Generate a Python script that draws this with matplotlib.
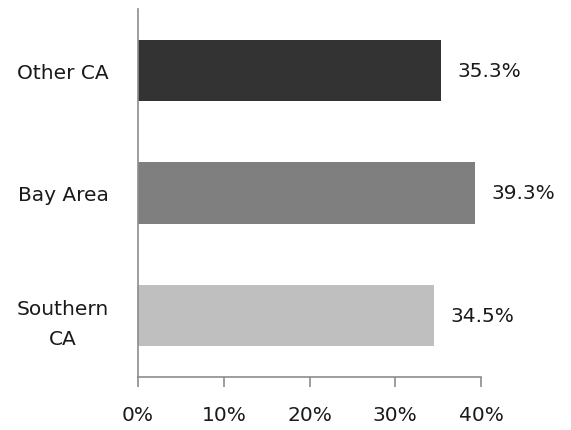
import matplotlib
matplotlib.use("Agg")
import matplotlib.pyplot as plt

regions = ["Southern\nCA", "Bay Area", "Other CA"]
shares = [34.5, 39.3, 35.3]
colors = ["#bfbfbf", "#7f7f7f", "#333333"]
xticks = [0, 10, 20, 30, 40]

plt.rcParams["font.family"] = ["DejaVu Sans"]

fig = plt.figure(figsize=(5.71, 4.31), dpi=100)
ax = fig.add_axes([0.2417, 0.123, 0.6007, 0.8538])

ypos = list(range(len(regions)))
ax.barh(ypos, shares, height=0.5, color=colors)
for y, v in zip(ypos, shares):
    ax.text(v + 1.9, y, f"{v:.1f}%", va="center", ha="left", fontsize=14.5, color="#1a1a1a")

ax.set_xlim(0, 40)
ax.set_ylim(-0.5, 2.5)
ax.set_yticks(ypos)
ax.set_yticklabels(regions, fontsize=14.5, color="#1a1a1a", ha="center", linespacing=1.75)
ax.tick_params(axis="y", length=0, pad=54)
ax.set_xticks(xticks)
ax.set_xticklabels([f"{t}%" for t in xticks], fontsize=14.5, color="#1a1a1a")
ax.tick_params(axis="x", length=7, width=1.2, color="#8c8c8c", pad=13, direction="out")

for s in ["top", "right"]:
    ax.spines[s].set_visible(False)
for s in ["left", "bottom"]:
    ax.spines[s].set_color("#8c8c8c")
    ax.spines[s].set_linewidth(1.2)

fig.savefig("out.png", dpi=100)
